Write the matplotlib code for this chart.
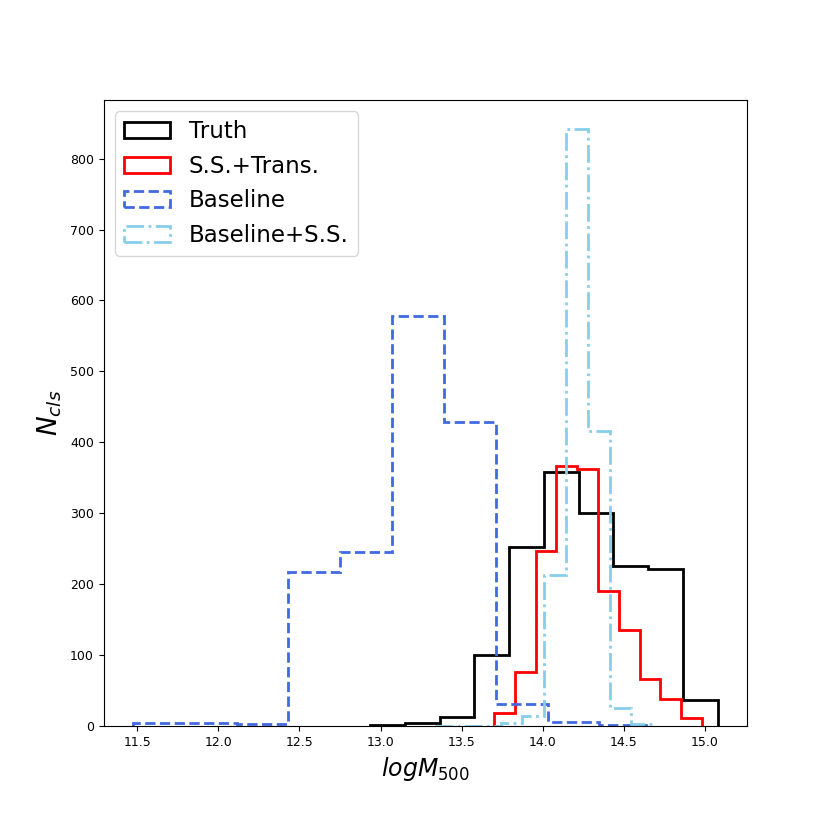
import numpy as np
import matplotlib
matplotlib.use("Agg")
import matplotlib.pyplot as plt

# Bin edges (logM500) and counts
truth_edges = np.linspace(12.936, 15.078, 11)
truth_counts = [2, 4, 13, 101, 252, 358, 301, 226, 221, 37]

sstrans_edges = np.linspace(13.700, 14.980, 11)
sstrans_counts = [19, 76, 247, 367, 362, 191, 135, 67, 38, 11]

baseline_edges = np.linspace(11.474, 14.668, 11)
baseline_counts = [4, 4, 3, 217, 245, 578, 429, 31, 6, 2]

basess_edges = np.linspace(13.337, 14.680, 11)
basess_counts = [1, 1, 1, 4, 15, 213, 841, 416, 26, 3]

labels = ["Truth", "S.S.+Trans.", "Baseline", "Baseline+S.S."]

fig = plt.figure(figsize=(8.3, 8.3), dpi=100)
ax = fig.add_subplot(111)

def step(edges, counts, **kw):
    centers = 0.5 * (edges[:-1] + edges[1:])
    ax.hist(centers, bins=edges, weights=counts, histtype="step", linewidth=2, **kw)

step(truth_edges, truth_counts, color="black", linestyle="-", label=labels[0])
step(sstrans_edges, sstrans_counts, color="red", linestyle="-", label=labels[1])
step(baseline_edges, baseline_counts, color="royalblue", linestyle="--", label=labels[2])
step(basess_edges, basess_counts, color="skyblue", linestyle="-.", label=labels[3])

ax.set_xlabel(r"$logM_{500}$", fontsize=17)
ax.set_ylabel(r"$N_{cls}$", fontsize=19)
ax.tick_params(labelsize=9)
ax.legend(loc="upper left", fontsize=16.5)

fig.subplots_adjust(left=0.125, right=0.9, bottom=0.125, top=0.88)
fig.savefig("out.png", dpi=100)
